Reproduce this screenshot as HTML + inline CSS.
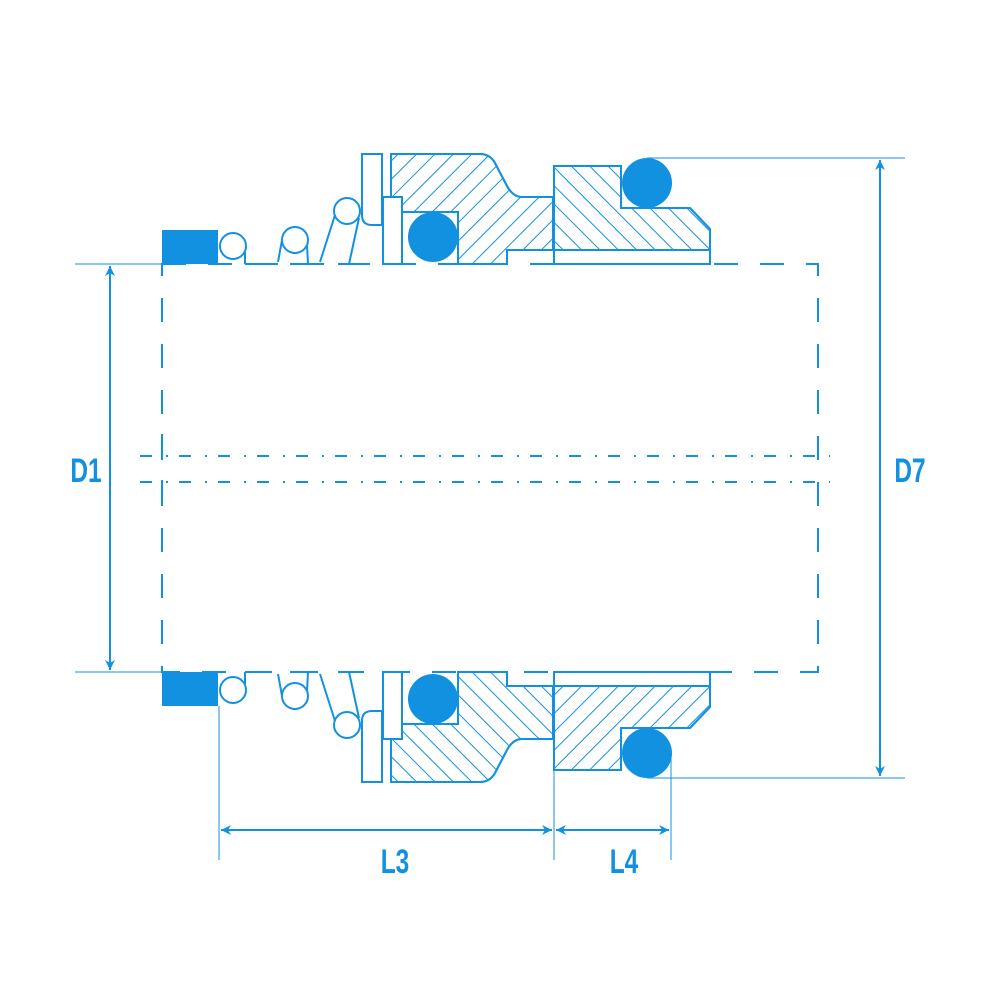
<!DOCTYPE html>
<html><head><style>
html,body{margin:0;padding:0;background:#fff;}
svg{display:block;}
text{font-family:"Liberation Sans",sans-serif;font-weight:bold;fill:#1391E1;}
</style></head><body>
<svg width="1000" height="1000" viewBox="0 0 1000 1000" xmlns="http://www.w3.org/2000/svg">
<defs>
<pattern id="hA" patternUnits="userSpaceOnUse" width="13" height="13" patternTransform="rotate(45)">
<line x1="0" y1="0" x2="0" y2="13" stroke="#1391E1" stroke-width="2"/>
</pattern>
<pattern id="hB" patternUnits="userSpaceOnUse" width="13" height="13" patternTransform="rotate(-45)">
<line x1="0" y1="0" x2="0" y2="13" stroke="#1391E1" stroke-width="2"/>
</pattern>
<marker id="ar" viewBox="0 0 10 10" refX="10" refY="5" markerWidth="10" markerHeight="10" markerUnits="userSpaceOnUse" orient="auto-start-reverse">
<path d="M0,0 L10,5 L0,10 L3,5 Z" fill="#1391E1"/>
</marker>
</defs>
<g stroke="#1391E1" fill="none">
<!-- dashed rect -->
<rect x="162" y="264" width="656" height="408" stroke-width="2" stroke-dasharray="24 22"/>
<!-- centerlines -->
<line x1="140" y1="456" x2="830" y2="456" stroke-width="2" stroke-dasharray="12 14 2 11"/>
<line x1="140" y1="482" x2="830" y2="482" stroke-width="2" stroke-dasharray="12 14 2 11"/>
<line x1="162" y1="434" x2="162" y2="504" stroke-width="2" stroke-dasharray="24 22" stroke-dashoffset="0"/>
<!-- extension lines -->
<line x1="75" y1="264" x2="162" y2="264" stroke-width="1"/>
<line x1="75" y1="672" x2="162" y2="672" stroke-width="1"/>
<line x1="647" y1="158" x2="905" y2="158" stroke-width="1"/>
<line x1="647" y1="778" x2="905" y2="778" stroke-width="1"/>
<line x1="219" y1="706" x2="219" y2="860" stroke-width="1"/>
<line x1="554" y1="690" x2="554" y2="860" stroke-width="1"/>
<line x1="671" y1="753" x2="671" y2="860" stroke-width="1"/>
<!-- dimension arrows -->
<line x1="110" y1="266" x2="110" y2="670" stroke-width="2" marker-start="url(#ar)" marker-end="url(#ar)"/>
<line x1="880" y1="160" x2="880" y2="776" stroke-width="2" marker-start="url(#ar)" marker-end="url(#ar)"/>
<line x1="221" y1="830" x2="552" y2="830" stroke-width="2" marker-start="url(#ar)" marker-end="url(#ar)"/>
<line x1="556" y1="830" x2="669" y2="830" stroke-width="2" marker-start="url(#ar)" marker-end="url(#ar)"/>
</g>
<g id="top" stroke="#1391E1" stroke-width="2" fill="none">
<rect x="162" y="230" width="56" height="34" fill="#1391E1" stroke="none"/>
<circle cx="233" cy="246" r="13" fill="#fff"/>
<line x1="245" y1="252" x2="245" y2="264"/>
<line x1="245" y1="264" x2="267" y2="264"/>
<circle cx="295" cy="240" r="13" fill="#fff"/>
<line x1="282" y1="240" x2="278" y2="262"/>
<line x1="307" y1="245" x2="308" y2="264"/>
<line x1="290" y1="264" x2="313" y2="264"/>
<circle cx="347" cy="211" r="13" fill="#fff"/>
<line x1="335" y1="215" x2="320" y2="262"/>
<line x1="359" y1="218" x2="349" y2="264"/>
<line x1="338" y1="264" x2="360" y2="264"/>
<path d="M362,154 H382 V225 H372 Q362,225 362,215 Z" fill="#fff"/>
<rect x="383" y="197" width="19" height="67" fill="#fff"/>
<line x1="383" y1="264" x2="408" y2="264"/>
<path d="M391,154 H480 Q490,154 495,163 L507,186 Q513,197 522,197 H553 V250 H507 V264 H458 V212 H402 V197 H391 Z" fill="#fff"/>
<path d="M391,154 H480 Q490,154 495,163 L507,186 Q513,197 522,197 H553 V250 H507 V264 H458 V212 H402 V197 H391 Z" fill="url(#hA)"/>
<circle cx="433" cy="237" r="25" fill="#1391E1" stroke="none"/>
<path d="M554,166 H621 V208 H690 L710,229 V250 H554 Z" fill="#fff"/>
<path d="M554,166 H621 V208 H690 L710,229 V250 H554 Z" fill="url(#hB)"/>
<rect x="554" y="250" width="156" height="14" fill="#fff"/>
<circle cx="647" cy="183" r="25" fill="#1391E1" stroke="none"/>
</g>
<use href="#top" transform="matrix(1,0,0,-1,0,936)"/>
<text x="86" y="482" font-size="34" text-anchor="middle" transform="translate(86 0) scale(0.72 1) translate(-86 0)">D1</text>
<text x="910" y="482" font-size="34" text-anchor="middle" transform="translate(910 0) scale(0.72 1) translate(-910 0)">D7</text>
<text x="395" y="873" font-size="34" text-anchor="middle" transform="translate(395 0) scale(0.72 1) translate(-395 0)">L3</text>
<text x="624" y="873" font-size="34" text-anchor="middle" transform="translate(624 0) scale(0.72 1) translate(-624 0)">L4</text>
</svg>
</body></html>
